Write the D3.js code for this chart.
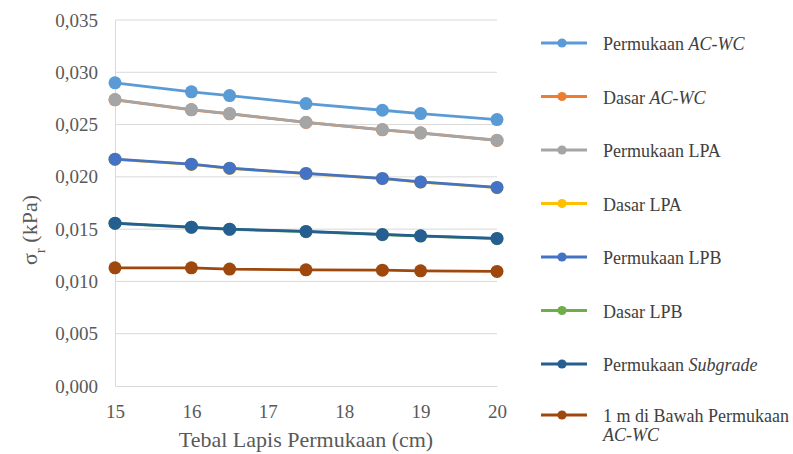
<!DOCTYPE html>
<html>
<head>
<meta charset="utf-8">
<script src="https://cdn.jsdelivr.net/npm/d3@7"></script>
<style>
  html, body { margin: 0; padding: 0; background: #fff; }
</style>
</head>
<body>
<svg id="chart" width="793" height="454"></svg>
<script>
// Thickness of the surface layer (cm)
const thickness = [15, 16, 16.5, 17.5, 18.5, 19, 20];

// Radial stress σr (kPa) at each depth
const permukaanACWC   = [0.02899, 0.02813, 0.02777, 0.02701, 0.02637, 0.02605, 0.02548];
const dasarACWC       = [0.02737, 0.02641, 0.02603, 0.02520, 0.02450, 0.02419, 0.02348];
const permukaanLPA    = [0.02739, 0.02643, 0.02605, 0.02522, 0.02452, 0.02421, 0.02350];
const dasarLPA        = [0.02167, 0.02119, 0.02081, 0.02031, 0.01983, 0.01950, 0.01897];
const permukaanLPB    = [0.02169, 0.02121, 0.02083, 0.02033, 0.01985, 0.01952, 0.01899];
const dasarLPB        = [0.01555, 0.01517, 0.01498, 0.01476, 0.01447, 0.01434, 0.01409];
const permukaanSubgr  = [0.01557, 0.01519, 0.01500, 0.01478, 0.01449, 0.01436, 0.01411];
const satuMeterBawah  = [0.01130, 0.01130, 0.01118, 0.01111, 0.01108, 0.01101, 0.01096];

const yTicks = [0, 0.005, 0.010, 0.015, 0.020, 0.025, 0.030, 0.035];
const xTicks = [15, 16, 17, 18, 19, 20];

const series = [
  { name: ["Permukaan ", "AC-WC"], values: permukaanACWC, color: "#5B9BD5" },
  { name: ["Dasar ", "AC-WC"], values: dasarACWC, color: "#ED7D31" },
  { name: ["Permukaan LPA"], values: permukaanLPA, color: "#A5A5A5" },
  { name: ["Dasar LPA"], values: dasarLPA, color: "#FFC000" },
  { name: ["Permukaan LPB"], values: permukaanLPB, color: "#4472C4" },
  { name: ["Dasar LPB"], values: dasarLPB, color: "#70AD47" },
  { name: ["Permukaan ", "Subgrade"], values: permukaanSubgr, color: "#255E91" },
  { name: ["1 m di Bawah Permukaan", "AC-WC"], values: satuMeterBawah, color: "#9E480E", wrap: true }
];

const FONT = "'Liberation Serif', 'Times New Roman', serif";
const svg = d3.select("#chart").attr("font-family", FONT);
const x = d3.scaleLinear().domain([15, 20]).range([115, 497]);
const y = d3.scaleLinear().domain([0, 0.035]).range([386, 20]);
const fmt = v => d3.format(".3f")(v).replace(".", ",");

// Horizontal gridlines
svg.append("g")
  .selectAll("line")
  .data(yTicks.slice(1))
  .join("line")
  .attr("x1", x(15)).attr("x2", x(20))
  .attr("y1", d => y(d)).attr("y2", d => y(d))
  .attr("stroke", "#d9d9d9").attr("stroke-width", 1);

// Y axis
const yAxis = svg.append("g")
  .attr("transform", `translate(${x(15)},0)`)
  .call(d3.axisLeft(y).tickValues(yTicks).tickFormat(fmt).tickSize(0).tickPadding(17))
  .attr("font-family", FONT)
  .attr("font-size", 19);
yAxis.select(".domain").attr("stroke", "#d9d9d9");
yAxis.selectAll("text").attr("fill", "#595959");

// X axis
const xAxis = svg.append("g")
  .attr("transform", `translate(0,${y(0)})`)
  .call(d3.axisBottom(x).tickValues(xTicks).tickFormat(d3.format("d")).tickSize(0).tickPadding(19))
  .attr("font-family", FONT)
  .attr("font-size", 19);
xAxis.select(".domain").attr("stroke", "#d9d9d9");
xAxis.selectAll("text").attr("fill", "#595959");

// Axis titles
svg.append("text")
  .attr("x", 306).attr("y", 447)
  .attr("text-anchor", "middle")
  .attr("fill", "#595959")
  .attr("font-size", 22)
  .text("Tebal Lapis Permukaan (cm)");

const yTitle = svg.append("text")
  .attr("transform", "translate(37,230) rotate(-90)")
  .attr("text-anchor", "middle")
  .attr("fill", "#595959")
  .attr("font-size", 22);
yTitle.append("tspan").text("σ");
yTitle.append("tspan").attr("baseline-shift", "sub").attr("font-size", 15).text("r");
yTitle.append("tspan").text(" (kPa)");

// Series lines and markers
const line = d3.line().x((d, i) => x(thickness[i])).y(d => y(d));
series.forEach(s => {
  const g = svg.append("g");
  g.append("path")
    .datum(s.values)
    .attr("d", line)
    .attr("fill", "none")
    .attr("stroke", s.color)
    .attr("stroke-width", 2.8);
  g.selectAll("circle")
    .data(s.values)
    .join("circle")
    .attr("cx", (d, i) => x(thickness[i]))
    .attr("cy", d => y(d))
    .attr("r", 6.5)
    .attr("fill", s.color);
});

// Legend
const legend = svg.append("g");
series.forEach((s, i) => {
  const ly = s.wrap ? 415 : 43 + i * 53.5;
  const g = legend.append("g").attr("transform", `translate(0,${ly})`);
  g.append("line")
    .attr("x1", 541).attr("x2", 587)
    .attr("stroke", s.color).attr("stroke-width", 2.8);
  g.append("circle").attr("cx", 562).attr("r", 4.6).attr("fill", s.color);
  const t = g.append("text")
    .attr("x", 603).attr("y", 7)
    .attr("fill", "#404040")
    .attr("font-size", 18);
  if (s.wrap) {
    t.text(s.name[0]);
    g.append("text")
      .attr("x", 603).attr("y", 26)
      .attr("fill", "#404040")
      .attr("font-size", 18)
      .attr("font-style", "italic")
      .text(s.name[1]);
  } else {
    t.append("tspan").text(s.name[0]);
    if (s.name[1]) t.append("tspan").attr("font-style", "italic").text(s.name[1]);
  }
});
</script>
</body>
</html>
